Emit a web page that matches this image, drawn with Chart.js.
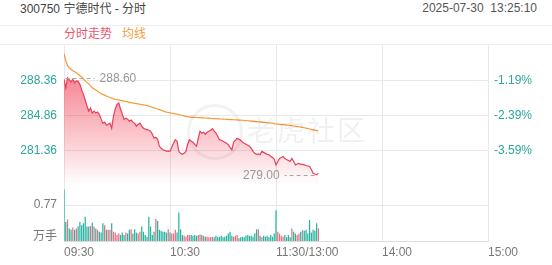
<!DOCTYPE html>
<html>
<head>
<meta charset="utf-8">
<script src="https://cdn.jsdelivr.net/npm/chart.js@4.4.1/dist/chart.umd.min.js"></script>
<style>
  html, body { margin: 0; padding: 0; background: #fff; }
  body {
    width: 552px; height: 265px; position: relative; overflow: hidden;
    font-family: "Liberation Sans", Arial, "Noto Sans CJK SC", sans-serif;
  }
  .title { position: absolute; left: 20px; top: 1px; font-size: 12px; line-height: 16px; color: #444; }
  .stamp { position: absolute; right: 15px; top: 0px; font-size: 12px; line-height: 16px; color: #555; white-space: pre; }
  .rule { position: absolute; left: 0; width: 552px; height: 1px; background: #efefef; }
  .legend { position: absolute; left: 64px; top: 26px; font-size: 12px; line-height: 16px; white-space: pre; }
  .watermark { position: absolute; left: 247px; top: 115px; font-size: 28px; line-height: 34px; color: rgba(0,0,0,0.06); letter-spacing: 2px; }
  .logo { position: absolute; left: 187px; top: 104px; width: 50px; height: 50px; border: 3px solid rgba(0,0,0,0.05); border-radius: 50%; }
  canvas { position: absolute; left: 0; top: 0; }
</style>
</head>
<body>
<div class="title">300750 宁德时代 - 分时</div>
<div class="stamp">2025-07-30  13:25:10</div>
<div class="rule" style="top:25px"></div>
<div class="rule" style="top:44px"></div>
<div class="legend"><span style="color:#e8566e">分时走势</span>   <span style="color:#f0a040">均线</span></div>
<canvas id="priceChart" width="552" height="265"></canvas>
<canvas id="volChart" width="552" height="265"></canvas>
<div class="logo"></div>
<div class="watermark">老虎社区</div>
<script>
// minute ticks along the session (09:30 .. 15:00, lunch break collapsed)
const tickMinutes = [0, 60, 120, 180, 240];
const timeLabels = ["09:30", "10:30", "11:30/13:00", "14:00", "15:00"];

const prevClose = 291.83;
const priceTicks = [281.36, 284.86, 288.36];
const priceMin = 277.86;
const priceMax = 291.86;

const volTickValues = [0.09, 0.77];
const volTickLabels = ["万手", "0.77"];

// one value per minute, 09:30 .. 13:24
const prices = [
  288.45, 287.60, 288.60, 288.40, 288.20, 288.45, 288.10, 288.30, 288.25, 287.96,
  287.40, 286.96, 286.40, 285.80, 285.30, 285.60, 285.10, 285.30, 285.10, 285.20,
  284.96, 284.50, 284.10, 284.20, 283.90, 284.00, 284.10, 283.60, 284.80, 285.50,
  285.96, 286.10, 285.50, 285.00, 284.46, 284.60, 284.50, 284.30, 284.40, 284.20,
  284.10, 283.80, 284.00, 284.10, 283.80, 283.60, 283.50, 283.46, 283.40, 283.30,
  283.00, 282.60, 282.70, 282.50, 281.80, 281.60, 281.46, 281.40, 281.30, 281.35,
  281.30, 281.70, 282.10, 282.46, 282.30, 281.30, 281.10, 281.00, 281.10, 281.30,
  282.00, 282.46, 282.30, 282.20, 282.00, 281.80, 282.60, 283.30, 283.10, 283.20,
  283.00, 283.20, 283.30, 283.40, 283.56, 283.30, 283.10, 282.80, 282.46, 282.40,
  282.30, 282.20, 282.10, 281.96, 281.70, 281.46, 282.20, 282.40, 282.60, 282.50,
  282.40, 282.20, 282.10, 282.00, 281.90, 281.80, 281.60, 281.30, 281.10, 281.00,
  281.05, 280.96, 281.30, 281.20, 281.10, 281.00, 280.96, 280.80, 280.70, 280.50,
  279.96, 280.30, 280.60, 280.70, 280.80, 280.60, 280.50, 280.40, 280.30, 280.60,
  280.30, 279.96, 280.05, 280.10, 280.00, 280.00, 279.96, 279.90, 279.85, 279.80,
  279.50, 279.12, 279.05, 279.00, 279.10
];

const avgPrices = [
  291.00, 290.30, 289.80, 289.60, 289.45, 289.30, 289.20, 289.10, 288.95, 288.80,
  288.70, 288.50, 288.30, 288.15, 288.00, 287.80, 287.62, 287.50, 287.38, 287.26,
  287.15, 287.05, 286.96, 286.88, 286.80, 286.72, 286.65, 286.58, 286.52, 286.46,
  286.43, 286.40, 286.37, 286.33, 286.29, 286.25, 286.21, 286.17, 286.13, 286.10,
  286.07, 286.04, 286.01, 285.98, 285.94, 285.91, 285.88, 285.84, 285.80, 285.74,
  285.68, 285.62, 285.56, 285.50, 285.44, 285.38, 285.32, 285.26, 285.20, 285.16,
  285.12, 285.09, 285.06, 285.02, 284.99, 284.96, 284.91, 284.87, 284.82, 284.78,
  284.74, 284.70, 284.69, 284.68, 284.67, 284.66, 284.65, 284.64, 284.63, 284.62,
  284.61, 284.60, 284.59, 284.57, 284.56, 284.55, 284.54, 284.53, 284.52, 284.51,
  284.50, 284.49, 284.48, 284.47, 284.46, 284.45, 284.44, 284.43, 284.42, 284.41,
  284.40, 284.39, 284.37, 284.36, 284.34, 284.33, 284.31, 284.30, 284.28, 284.26,
  284.24, 284.22, 284.20, 284.18, 284.16, 284.14, 284.12, 284.11, 284.10, 284.06,
  284.02, 284.00, 283.98, 283.96, 283.95, 283.93, 283.91, 283.89, 283.87, 283.85,
  283.82, 283.80, 283.77, 283.74, 283.71, 283.68, 283.64, 283.60, 283.56, 283.52,
  283.48, 283.44, 283.40, 283.37, 283.34
];

// volume in 万手
const volumes = [
  1.11, 0.41, 0.46, 0.27, 0.24, 0.29, 0.24, 0.27, 0.31, 0.41,
  0.34, 0.38, 0.52, 0.31, 0.31, 0.32, 0.39, 0.31, 0.27, 0.24,
  0.20, 0.18, 0.38, 0.34, 0.24, 0.24, 0.24, 0.38, 0.20, 0.18,
  0.13, 0.16, 0.13, 0.18, 0.13, 0.18, 0.16, 0.24, 0.25, 0.16,
  0.25, 0.18, 0.16, 0.20, 0.31, 0.20, 0.13, 0.09, 0.52, 0.31,
  0.13, 0.20, 0.48, 0.43, 0.24, 0.22, 0.20, 0.20, 0.18, 0.25,
  0.18, 0.16, 0.16, 0.24, 0.18, 0.61, 0.25, 0.13, 0.11, 0.09,
  0.13, 0.13, 0.13, 0.11, 0.13, 0.11, 0.13, 0.14, 0.13, 0.11,
  0.09, 0.09, 0.08, 0.08, 0.09, 0.08, 0.11, 0.08, 0.09, 0.11,
  0.08, 0.09, 0.11, 0.16, 0.20, 0.11, 0.09, 0.11, 0.13, 0.06,
  0.08, 0.09, 0.08, 0.11, 0.13, 0.11, 0.11, 0.09, 0.16, 0.25,
  0.25, 0.11, 0.08, 0.11, 0.09, 0.11, 0.08, 0.13, 0.09, 0.16,
  0.66, 0.20, 0.16, 0.11, 0.09, 0.13, 0.08, 0.13, 0.08, 0.27,
  0.20, 0.16, 0.13, 0.16, 0.20, 0.24, 0.22, 0.24, 0.16, 0.45,
  0.18, 0.24, 0.22, 0.38, 0.27
];

const UP = "#ef6b80";
const DOWN = "#25b4a0";
const FLAT = "#9c9c9c";
const GRID = "#e8e8e8";

Chart.defaults.font.family = '"Liberation Sans", Arial, "Noto Sans CJK SC", sans-serif';
Chart.defaults.font.size = 12;

const toPoints = (arr) => arr.map((v, i) => ({ x: i, y: v }));

const barColors = prices.map((p, i) => {
  const before = i === 0 ? prevClose : prices[i - 1];
  if (p > before) return UP;
  if (p < before) return DOWN;
  return FLAT;
});

// dashed marker + label for the session high and low
const extremesPlugin = {
  id: "extremes",
  afterDatasetsDraw(chart) {
    const { ctx, scales: { x, y } } = chart;
    const hi = Math.max(...prices);
    const lo = Math.min(...prices);
    [hi, lo].forEach((v) => {
      const i = prices.indexOf(v);
      const px = x.getPixelForValue(i);
      const py = Math.round(y.getPixelForValue(v)) + 0.5;
      const toRight = px < (x.left + x.right) / 2;
      const x1 = toRight ? px - 2 : px - 2;
      const x2 = toRight ? px + 27 : px - 32;
      ctx.save();
      ctx.strokeStyle = "#a8a8a8";
      ctx.lineWidth = 1;
      ctx.setLineDash([4, 3]);
      ctx.beginPath();
      ctx.moveTo(x1, py);
      ctx.lineTo(x2, py);
      ctx.stroke();
      ctx.fillStyle = "#999";
      ctx.font = '12px "Liberation Sans", Arial, sans-serif';
      ctx.textBaseline = "middle";
      ctx.textAlign = toRight ? "left" : "right";
      ctx.fillText(v.toFixed(2), toRight ? x2 + 5 : x2 - 5, py);
      ctx.restore();
    });
  }
};

const fillGradient = (context) => {
  const { chart } = context;
  const area = chart.chartArea;
  if (!area) return "rgba(240,60,80,0.3)";
  const g = chart.ctx.createLinearGradient(0, area.top, 0, area.bottom);
  g.addColorStop(0, "rgba(240,60,80,0.8)");
  g.addColorStop(1, "rgba(240,60,80,0)");
  return g;
};

const xTicks = (scale) => { scale.ticks = tickMinutes.map((v) => ({ value: v })); };
const priceTickBuild = (scale) => { scale.ticks = priceTicks.map((v) => ({ value: v })); };

new Chart(document.getElementById("priceChart"), {
  type: "line",
  data: {
    datasets: [
      {
        label: "分时走势",
        data: toPoints(prices),
        borderColor: "#e8405a",
        borderWidth: 1.2,
        pointRadius: 0,
        tension: 0,
        fill: "start",
        backgroundColor: fillGradient
      },
      {
        label: "均线",
        data: toPoints(avgPrices),
        borderColor: "#f29b38",
        borderWidth: 1.2,
        pointRadius: 0,
        tension: 0,
        fill: false
      }
    ]
  },
  options: {
    responsive: false,
    animation: false,
    layout: { padding: { top: 45, bottom: 79, left: 0, right: 0 } },
    plugins: { legend: { display: false }, tooltip: { enabled: false } },
    scales: {
      x: {
        type: "linear",
        min: 0,
        max: 240,
        afterBuildTicks: xTicks,
        ticks: { display: false },
        grid: { color: GRID, drawTicks: false },
        border: { display: false },
        afterFit: (s) => { s.height = 0; }
      },
      y: {
        position: "left",
        min: priceMin,
        max: priceMax,
        afterBuildTicks: priceTickBuild,
        ticks: { color: "#2aa898", padding: 7, callback: (v) => v.toFixed(2) },
        grid: { color: GRID, drawTicks: false },
        border: { display: false },
        afterFit: (s) => { s.width = 64; }
      },
      pct: {
        position: "right",
        min: priceMin,
        max: priceMax,
        afterBuildTicks: priceTickBuild,
        ticks: {
          color: "#2aa898",
          padding: 6,
          callback: (v) => ((v / prevClose - 1) * 100).toFixed(2) + "%"
        },
        grid: { display: false, drawTicks: false },
        border: { display: false },
        afterFit: (s) => { s.width = 64; }
      }
    }
  },
  plugins: [extremesPlugin]
});

new Chart(document.getElementById("volChart"), {
  type: "bar",
  data: {
    datasets: [{
      label: "成交量",
      data: toPoints(volumes),
      backgroundColor: barColors,
      barPercentage: 0.7,
      categoryPercentage: 1
    }]
  },
  options: {
    responsive: false,
    animation: false,
    layout: { padding: { top: 186, bottom: 0, left: 0, right: 64 } },
    plugins: { legend: { display: false }, tooltip: { enabled: false } },
    scales: {
      x: {
        type: "linear",
        min: 0,
        max: 240,
        offset: false,
        afterBuildTicks: xTicks,
        ticks: {
          color: "#777",
          align: "start",
          padding: 4,
          maxRotation: 0,
          autoSkip: false,
          callback: (v) => timeLabels[tickMinutes.indexOf(v)]
        },
        grid: { color: GRID, drawTicks: false, offset: false },
        border: { display: true, color: "#dcdcdc" },
        afterFit: (s) => { s.height = 24; }
      },
      y: {
        position: "left",
        min: 0,
        max: 1.18,
        afterBuildTicks: (s) => { s.ticks = volTickValues.map((v) => ({ value: v })); },
        ticks: {
          color: "#777",
          padding: 7,
          callback: (v) => volTickLabels[volTickValues.indexOf(v)]
        },
        grid: {
          drawTicks: false,
          color: (c) => (c.tick && c.tick.value === 0.77 ? GRID : "rgba(0,0,0,0)")
        },
        border: { display: false },
        afterFit: (s) => { s.width = 64; }
      }
    }
  }
});
</script>
</body>
</html>
